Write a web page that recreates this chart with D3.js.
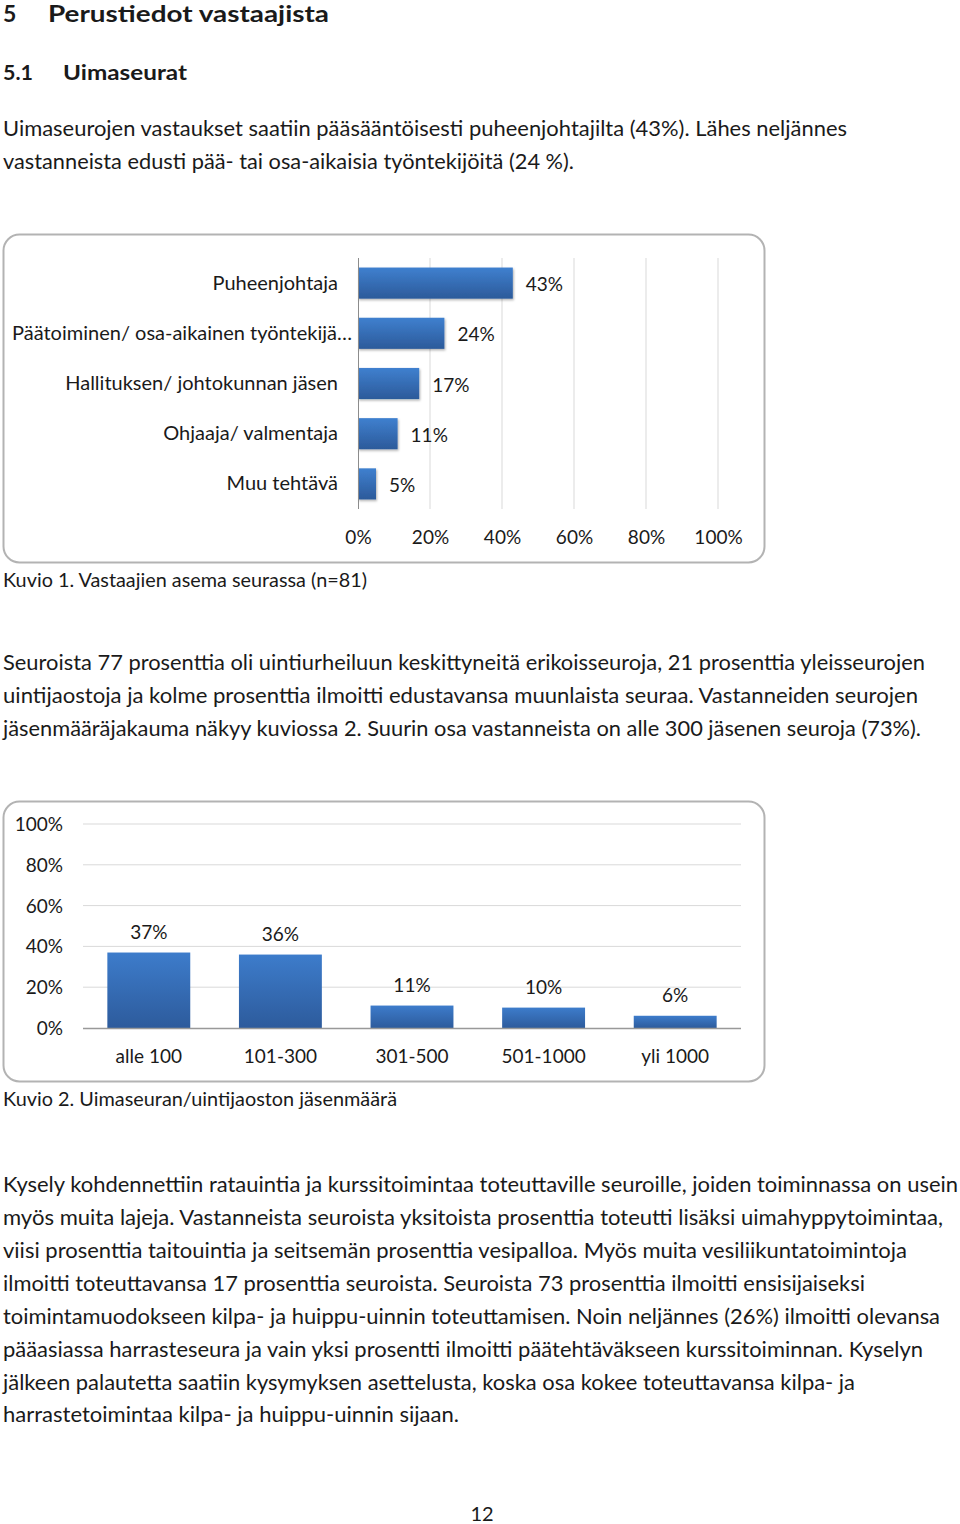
<!DOCTYPE html>
<html><head><meta charset="utf-8">
<script src="https://cdn.jsdelivr.net/npm/d3@7"></script>
<style>
html,body{margin:0;padding:0;background:#fff;}
svg text{font-family:Lato,"Open Sans",sans-serif;fill:#1a1a1a;}
</style></head>
<body>
<svg id="page" width="960" height="1524"></svg>
<script>
// ---------- data ----------
const roleCategories = ["Puheenjohtaja","Päätoiminen/ osa-aikainen työntekijä…","Hallituksen/ johtokunnan jäsen","Ohjaaja/ valmentaja","Muu tehtävä"];
const roleValues = [43,24,17,11,5];
const roleTicks = [0,20,40,60,80,100];

const sizeCategories = ["alle 100","101-300","301-500","501-1000","yli 1000"];
const sizeValues = [37,36,11,10,6];
const sizeTicks = [0,20,40,60,80,100];

const heading1 = ["5","Perustiedot vastaajista"];
const heading2 = ["5.1","Uimaseurat"];
const para1 = ["Uimaseurojen vastaukset saatiin pääsääntöisesti puheenjohtajilta (43%). Lähes neljännes",
               "vastanneista edusti pää- tai osa-aikaisia työntekijöitä (24 %)."];
const caption1 = "Kuvio 1. Vastaajien asema seurassa (n=81)";
const para2 = ["Seuroista 77 prosenttia oli uintiurheiluun keskittyneitä erikoisseuroja, 21 prosenttia yleisseurojen",
               "uintijaostoja ja kolme prosenttia ilmoitti edustavansa muunlaista seuraa. Vastanneiden seurojen",
               "jäsenmääräjakauma näkyy kuviossa 2. Suurin osa vastanneista on alle 300 jäsenen seuroja (73%)."];
const caption2 = "Kuvio 2. Uimaseuran/uintijaoston jäsenmäärä";
const para3 = ["Kysely kohdennettiin ratauintia ja kurssitoimintaa toteuttaville seuroille, joiden toiminnassa on usein",
               "myös muita lajeja. Vastanneista seuroista yksitoista prosenttia toteutti lisäksi uimahyppytoimintaa,",
               "viisi prosenttia taitouintia ja seitsemän prosenttia vesipalloa. Myös muita vesiliikuntatoimintoja",
               "ilmoitti toteuttavansa 17 prosenttia seuroista. Seuroista 73 prosenttia ilmoitti ensisijaiseksi",
               "toimintamuodokseen kilpa- ja huippu-uinnin toteuttamisen. Noin neljännes (26%) ilmoitti olevansa",
               "pääasiassa harrasteseura ja vain yksi prosentti ilmoitti päätehtäväkseen kurssitoiminnan. Kyselyn",
               "jälkeen palautetta saatiin kysymyksen asettelusta, koska osa kokee toteuttavansa kilpa- ja",
               "harrastetoimintaa kilpa- ja huippu-uinnin sijaan."];
const pageNumber = "12";

// ---------- helpers ----------
const svg = d3.select("#page");
const NUM_CONDENSE = 0.95;
const LABEL_SIZE = 20;
function condense(sel, f){
  sel.each(function(){
    const w = this.getComputedTextLength();
    d3.select(this).attr("textLength", w*f).attr("lengthAdjust","spacingAndGlyphs");
  });
}
function fitTo(sel, width){
  sel.attr("textLength", width).attr("lengthAdjust","spacingAndGlyphs");
}
const defs = svg.append("defs");
const gV = defs.append("linearGradient").attr("id","barGrad").attr("x1",0).attr("y1",0).attr("x2",0).attr("y2",1);
gV.append("stop").attr("offset","0%").attr("stop-color","#3d7ccb");
gV.append("stop").attr("offset","100%").attr("stop-color","#2d5b9c");
const gH = defs.append("linearGradient").attr("id","barGradH").attr("x1",0).attr("y1",0).attr("x2",0).attr("y2",1);
gH.append("stop").attr("offset","0%").attr("stop-color","#3f80cf");
gH.append("stop").attr("offset","100%").attr("stop-color","#2c5a9a");
const sh = defs.append("filter").attr("id","shadow").attr("x","-10%").attr("y","-10%").attr("width","130%").attr("height","140%");
sh.append("feDropShadow").attr("dx",1).attr("dy",1.5).attr("stdDeviation",1.2).attr("flood-color","#000").attr("flood-opacity",0.3);

// ---------- headings & paragraphs ----------
svg.append("text").attr("x",3).attr("y",14).attr("dy","0.35em").attr("font-size",23).attr("font-weight",700).text(heading1[0]);
svg.append("text").attr("x",48).attr("y",14).attr("dy","0.35em").attr("font-size",23).attr("font-weight",700).text(heading1[1]).call(fitTo,281);
svg.append("text").attr("x",3).attr("y",73).attr("dy","0.35em").attr("font-size",21).attr("font-weight",700).text(heading2[0]).call(fitTo,30);
svg.append("text").attr("x",63).attr("y",73).attr("dy","0.35em").attr("font-size",21).attr("font-weight",700).text(heading2[1]).call(fitTo,124);

function paragraph(lines, y0, widths){
  lines.forEach((t,i)=>{
    svg.append("text").attr("x",3).attr("y",y0+i*32.9).attr("dy","0.35em").attr("font-size",20.5).text(t).call(fitTo,widths[i]);
  });
}
paragraph(para1, 129, [844,571]);
paragraph(para2, 663, [922,915,918]);
paragraph(para3, 1185, [955,940,904,862,937,920,852,456]);

svg.append("text").attr("x",3).attr("y",580).attr("dy","0.35em").attr("font-size",19).text(caption1).call(fitTo,364);
svg.append("text").attr("x",3).attr("y",1099).attr("dy","0.35em").attr("font-size",19).text(caption2).call(fitTo,394);
svg.append("text").attr("x",482).attr("y",1514).attr("dy","0.35em").attr("font-size",20).attr("text-anchor","middle").text(pageNumber);

// ---------- chart 1 (horizontal bars) ----------
const c1 = svg.append("g");
c1.append("rect").attr("x",3.5).attr("y",234.5).attr("width",761).attr("height",328).attr("rx",16)
  .attr("fill","#fff").attr("stroke","#b3b3b3").attr("stroke-width",2);
const x1 = d3.scaleLinear().domain([0,100]).range([358,718]);
const y1 = d3.scaleBand().domain(roleCategories).range([258,509]).paddingInner(0.38).paddingOuter(0.19);
c1.selectAll("line.grid").data(roleTicks.slice(1)).join("line")
  .attr("x1",d=>x1(d)).attr("x2",d=>x1(d)).attr("y1",258).attr("y2",509)
  .attr("stroke","#d9d9d9").attr("stroke-width",1);
const xAxis1 = c1.append("g").attr("transform","translate(0,537)")
  .call(d3.axisBottom(x1).tickValues(roleTicks).tickFormat(d=>d+"%").tickSize(0));
xAxis1.select(".domain").remove();
xAxis1.selectAll("text").attr("dy","0.35em").attr("y",0).attr("font-size",LABEL_SIZE).attr("fill","#1a1a1a").style("font-family","Lato").call(condense,NUM_CONDENSE);
c1.selectAll("rect.bar").data(roleValues).join("rect").attr("class","bar")
  .attr("x",x1(0)).attr("y",(d,i)=>y1(roleCategories[i]))
  .attr("width",d=>x1(d)-x1(0)).attr("height",y1.bandwidth())
  .attr("fill","url(#barGradH)").attr("filter","url(#shadow)");
const yAxis1 = c1.append("g").attr("transform",`translate(${x1(0)},0)`)
  .call(d3.axisLeft(y1).tickSize(0).tickPadding(20));
yAxis1.select(".domain").attr("stroke","#8c8c8c").attr("d",`M0.5,258V509`);
yAxis1.selectAll("text").attr("font-size",LABEL_SIZE).attr("fill","#1a1a1a").style("font-family","Lato")
  .attr("dx",d=>d.endsWith("…")?14:0);
c1.selectAll("text.val").data(roleValues).join("text").attr("class","val")
  .attr("x",d=>x1(d)+13).attr("y",(d,i)=>y1(roleCategories[i])+y1.bandwidth()/2+1)
  .attr("dy","0.35em").attr("font-size",LABEL_SIZE).text(d=>d+"%").call(condense,NUM_CONDENSE);

// ---------- chart 2 (vertical bars) ----------
const c2 = svg.append("g");
c2.append("rect").attr("x",3.5).attr("y",801.5).attr("width",761).attr("height",280).attr("rx",16)
  .attr("fill","#fff").attr("stroke","#b3b3b3").attr("stroke-width",2);
const y2 = d3.scaleLinear().domain([0,100]).range([1028,824]);
const x2 = d3.scaleBand().domain(sizeCategories).range([83,741]).paddingInner(0.37).paddingOuter(0.185);
c2.selectAll("line.grid").data(sizeTicks.slice(1)).join("line")
  .attr("x1",83).attr("x2",741).attr("y1",d=>y2(d)).attr("y2",d=>y2(d))
  .attr("stroke","#d9d9d9").attr("stroke-width",1);
const yAxis2 = c2.append("g").attr("transform","translate(63,0)")
  .call(d3.axisLeft(y2).tickValues(sizeTicks).tickFormat(d=>d+"%").tickSize(0).tickPadding(0));
yAxis2.select(".domain").remove();
yAxis2.selectAll("text").attr("font-size",LABEL_SIZE).attr("fill","#1a1a1a").style("font-family","Lato").call(condense,NUM_CONDENSE);
c2.selectAll("rect.bar").data(sizeValues).join("rect").attr("class","bar")
  .attr("x",(d,i)=>x2(sizeCategories[i])).attr("y",d=>y2(d))
  .attr("width",x2.bandwidth()).attr("height",d=>y2(0)-y2(d))
  .attr("fill","url(#barGrad)");
c2.append("line").attr("x1",83).attr("x2",741).attr("y1",y2(0)+0.5).attr("y2",y2(0)+0.5)
  .attr("stroke","#999").attr("stroke-width",1.5);
const xAxis2 = c2.append("g").attr("transform","translate(0,1056)")
  .call(d3.axisBottom(x2).tickSize(0));
xAxis2.select(".domain").remove();
xAxis2.selectAll("text").attr("y",0).attr("dy","0.35em").attr("font-size",LABEL_SIZE).attr("fill","#1a1a1a").style("font-family","Lato").call(condense,NUM_CONDENSE);
c2.selectAll("text.val").data(sizeValues).join("text").attr("class","val")
  .attr("x",(d,i)=>x2(sizeCategories[i])+x2.bandwidth()/2).attr("y",d=>y2(d)-21)
  .attr("dy","0.35em").attr("text-anchor","middle").attr("font-size",LABEL_SIZE).text(d=>d+"%").call(condense,NUM_CONDENSE);
</script>
</body></html>
